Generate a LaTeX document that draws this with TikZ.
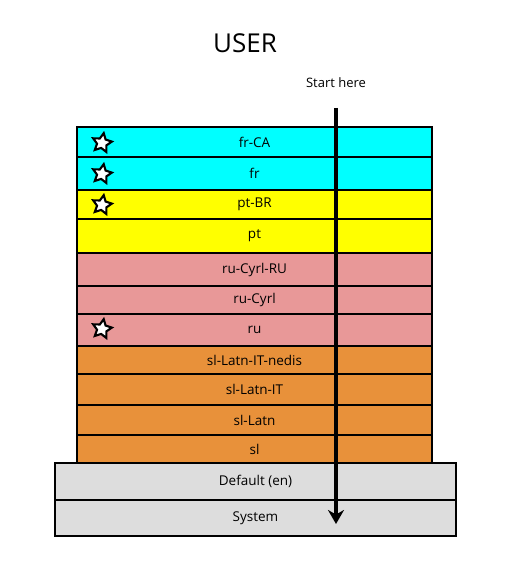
\documentclass[tikz,border=0pt]{standalone}
\usepackage{fontspec}
\setmainfont{Open Sans}
\usetikzlibrary{shapes.geometric,arrows.meta}
\definecolor{cyanrow}{HTML}{00FFFF}
\definecolor{yellowrow}{HTML}{FFFF00}
\definecolor{pinkrow}{HTML}{E89898}
\definecolor{orangerow}{HTML}{E8913A}
\definecolor{grayrow}{HTML}{DDDDDD}
\tikzset{
  row/.style={draw=black, line width=2.4pt, minimum width=355pt, inner sep=0pt, font=\fontsize{13.5}{14}\selectfont},
  baserow/.style={draw=black, line width=2.4pt, minimum width=401pt, inner sep=0pt, font=\fontsize{13.5}{14}\selectfont},
  favstar/.style={star, star points=5, star point ratio=2.0, draw=black, fill=white, line width=2.1pt, minimum size=20pt, inner sep=0pt, rotate=-10},
  flow/.style={line width=3.6pt, -{Stealth[length=14pt,width=16pt]}}
}
\begin{document}
\begin{tikzpicture}[x=1pt,y=1pt]
\useasboundingbox (0,0) rectangle (512,576);
% rows: x 77..432, centre 254.5
\node[row, fill=cyanrow, minimum height=30pt] (frCA) at (254.5,576-142) {fr-CA};
\node[row, fill=cyanrow, minimum height=33pt] (fr) at (254.5,576-173.5) {fr};
\node[row, fill=yellowrow, minimum height=29pt] (ptBR) at (254.5,576-204.5) {pt-BR};
\node[row, fill=yellowrow, minimum height=34pt] (pt) at (254.5,576-236) {pt};
\node[row, fill=pinkrow, minimum height=33pt] (ruCyrlRU) at (254.5,576-269.5) {ru-Cyrl-RU};
\node[row, fill=pinkrow, minimum height=28pt] (ruCyrl) at (254.5,576-300) {ru-Cyrl};
\node[row, fill=pinkrow, minimum height=32pt] (ru) at (254.5,576-330) {ru};
\node[row, fill=orangerow, minimum height=28pt] (slLatnITnedis) at (254.5,576-360) {sl-Latn-IT-nedis};
\node[row, fill=orangerow, minimum height=31pt] (slLatnIT) at (254.5,576-389.5) {sl-Latn-IT};
\node[row, fill=orangerow, minimum height=30pt] (slLatn) at (254.5,576-420) {sl-Latn};
\node[row, fill=orangerow, minimum height=28pt] (sl) at (254.5,576-449) {sl};
\node[baserow, fill=grayrow, minimum height=37pt] (default) at (255.5,576-481.5) {Default (en)};
\node[baserow, fill=grayrow, minimum height=36pt] (system) at (255.5,576-518) {System};
% stars
\node[favstar] (s1) at (102,576-143) {};
\node[favstar] (s2) at (102,576-174) {};
\node[favstar] (s3) at (102,576-205) {};
\node[favstar] (s4) at (102,576-329) {};
% titles
\node[font=\fontsize{26}{30}\selectfont] (user) at (245,576-43) {USER};
\node[font=\fontsize{13}{14}\selectfont] (start) at (336,576-83) {Start here};
% arrow
\coordinate (a0) at (336,576-108);
\coordinate (a1) at (336,576-524);
\draw[flow] (a0) -- (a1);
\end{tikzpicture}
\end{document}
